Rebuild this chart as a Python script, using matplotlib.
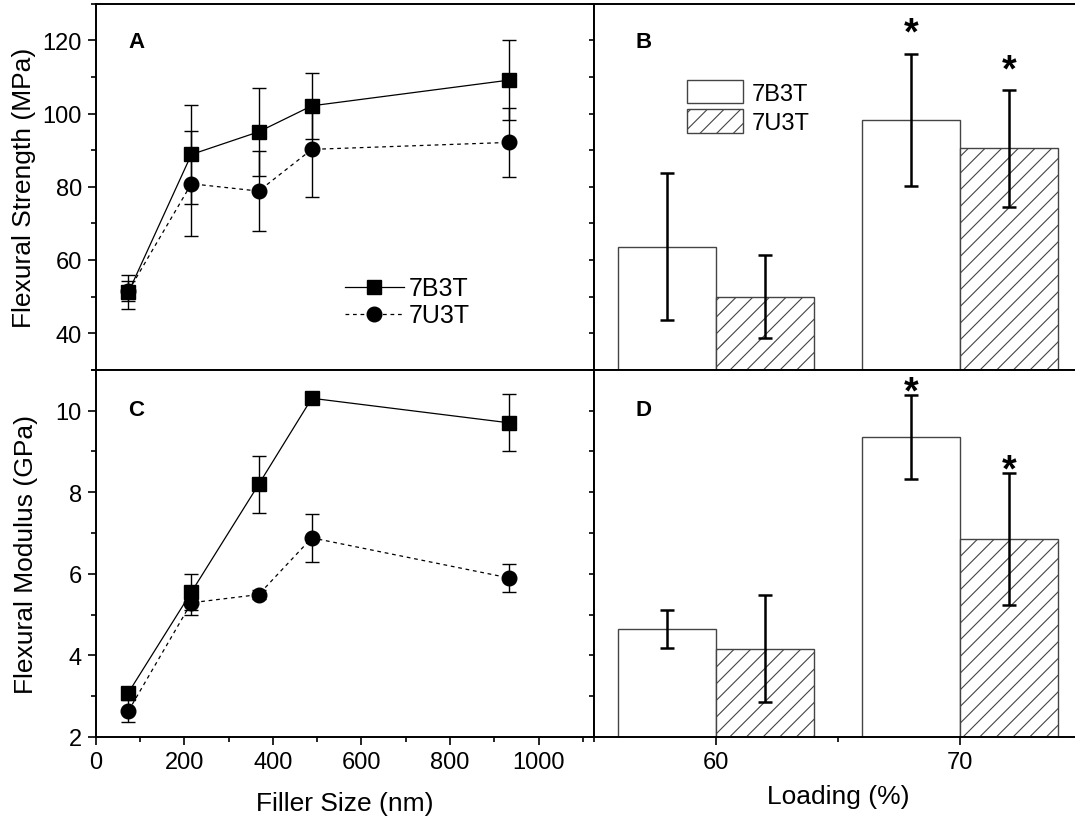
import matplotlib
matplotlib.use('Agg')
import matplotlib.pyplot as plt
from matplotlib.ticker import MultipleLocator, FixedLocator

plt.rcParams['font.family'] = ['Liberation Sans', 'DejaVu Sans']
plt.rcParams['hatch.linewidth'] = 0.8

# ---------------- data ----------------
series = ['7B3T', '7U3T']
filler_size = [74, 216, 368, 488, 932]

strength_7B3T = [51.2, 88.8, 95.0, 102.1, 109.1]
strength_7B3T_err = [4.6, 13.6, 12.0, 9.0, 11.0]
strength_7U3T = [51.5, 80.8, 78.8, 90.2, 92.1]
strength_7U3T_err = [2.6, 14.4, 10.9, 13.1, 9.5]

modulus_7B3T = [3.09, 5.55, 8.19, 10.30, 9.70]
modulus_7B3T_err = [0.10, 0.45, 0.70, 0.12, 0.70]
modulus_7U3T = [2.64, 5.29, 5.49, 6.88, 5.90]
modulus_7U3T_err = [0.27, 0.30, 0.10, 0.58, 0.34]

loading = [60, 70]
loading_labels = ['60', '70']
bar_strength_7B3T = [63.6, 98.2]
bar_strength_7B3T_err = [20.1, 18.0]
bar_strength_7U3T = [50.0, 90.5]
bar_strength_7U3T_err = [11.3, 16.0]
bar_modulus_7B3T = [4.64, 9.35]
bar_modulus_7B3T_err = [0.47, 1.03]
bar_modulus_7U3T = [4.16, 6.85]
bar_modulus_7U3T_err = [1.31, 1.62]
# significance flags (asterisk) per bar
sig_7B3T = [False, True]
sig_7U3T = [False, True]

# ---------------- layout ----------------
W, H = 1075, 820
fig = plt.figure(figsize=(W / 100, H / 100), dpi=100)

xl, xm, xr = 95.7, 594.0, 1082.0
yt, ym, yb = 4.7, 370.7, 738.0

def rect(x0, x1, y0, y1):
    return [x0 / W, 1 - y1 / H, (x1 - x0) / W, (y1 - y0) / H]

axA = fig.add_axes(rect(xl, xm, yt, ym))
axC = fig.add_axes(rect(xl, xm, ym, yb))
axB = fig.add_axes(rect(xm, xr, yt, ym))
axD = fig.add_axes(rect(xm, xr, ym, yb))

TICK_FS = 17
LABEL_FS = 19
LET_FS = 16

for ax in (axA, axB, axC, axD):
    for s in ax.spines.values():
        s.set_linewidth(1.4)
    ax.tick_params(which='both', direction='out', width=1.2, top=False, right=False,
                   labelsize=TICK_FS, pad=4)
    ax.tick_params(which='major', length=6)
    ax.tick_params(which='minor', length=3.5)

# ---------------- line panels ----------------
line_kw = dict(color='black', lw=0.9, elinewidth=1.0, capsize=5, capthick=1.0, ecolor='black')

hA1 = axA.errorbar(filler_size, strength_7B3T, yerr=strength_7B3T_err, marker='s', ms=10,
                   ls='-', **line_kw)
hA2 = axA.errorbar(filler_size, strength_7U3T, yerr=strength_7U3T_err, marker='o', ms=10.5,
                   ls=(0, (3, 3)), **line_kw)
axC.errorbar(filler_size, modulus_7B3T, yerr=modulus_7B3T_err, marker='s', ms=10,
             ls='-', **line_kw)
axC.errorbar(filler_size, modulus_7U3T, yerr=modulus_7U3T_err, marker='o', ms=10.5,
             ls=(0, (3, 3)), **line_kw)

for ax in (axA, axC):
    ax.set_xlim(0, 1125)
    ax.xaxis.set_major_locator(MultipleLocator(200))
    ax.xaxis.set_minor_locator(MultipleLocator(100))
axA.tick_params(labelbottom=False)

axA.set_ylim(30, 130)
axA.yaxis.set_major_locator(MultipleLocator(20))
axA.yaxis.set_minor_locator(MultipleLocator(10))
axC.set_ylim(2, 11)
axC.yaxis.set_major_locator(MultipleLocator(2))
axC.yaxis.set_minor_locator(MultipleLocator(1))

axA.legend(handles=[hA1[0], hA2[0]], labels=series, loc='center left',
           bbox_to_anchor=(0.50, 0.185), frameon=False, fontsize=18,
           handlelength=2.35, handletextpad=0.2, labelspacing=0.12,
           borderpad=0, borderaxespad=0, numpoints=1)

# ---------------- bar panels ----------------
bw = 4.0
bar_kw = dict(width=bw, edgecolor='#444444', linewidth=1.0)
err_kw = dict(fmt='none', ecolor='black', elinewidth=1.8, capsize=5, capthick=1.8)

x1 = [v - bw / 2 for v in loading]
x2 = [v + bw / 2 for v in loading]

bB1 = axB.bar(x1, bar_strength_7B3T, color='white', **bar_kw)
bB2 = axB.bar(x2, bar_strength_7U3T, color='white', hatch='//', **bar_kw)
axB.errorbar(x1, bar_strength_7B3T, yerr=bar_strength_7B3T_err, **err_kw)
axB.errorbar(x2, bar_strength_7U3T, yerr=bar_strength_7U3T_err, **err_kw)

axD.bar(x1, bar_modulus_7B3T, color='white', **bar_kw)
axD.bar(x2, bar_modulus_7U3T, color='white', hatch='//', **bar_kw)
axD.errorbar(x1, bar_modulus_7B3T, yerr=bar_modulus_7B3T_err, **err_kw)
axD.errorbar(x2, bar_modulus_7U3T, yerr=bar_modulus_7U3T_err, **err_kw)

for ax in (axB, axD):
    ax.set_xlim(55, 75)
    ax.xaxis.set_major_locator(FixedLocator(loading))
    ax.xaxis.set_minor_locator(FixedLocator([55, 65, 75]))
    ax.tick_params(axis='y', which='both', labelleft=False, length=3.5)
axB.tick_params(labelbottom=False)
axD.set_xticks(loading)
axD.set_xticklabels(loading_labels)

axB.set_ylim(30, 130)
axB.yaxis.set_major_locator(MultipleLocator(20))
axB.yaxis.set_minor_locator(MultipleLocator(10))
axD.set_ylim(2, 11)
axD.yaxis.set_major_locator(MultipleLocator(2))
axD.yaxis.set_minor_locator(MultipleLocator(1))

# asterisks
def stars(ax, xs, vals, errs, flags, off):
    for x, v, e, f in zip(xs, vals, errs, flags):
        if f:
            ax.annotate('*', xy=(x, v + e), xytext=(0, off), textcoords='offset points',
                        ha='center', va='center', fontsize=27, fontweight='bold',
                        annotation_clip=False)

stars(axB, x1, bar_strength_7B3T, bar_strength_7B3T_err, sig_7B3T, 15)
stars(axB, x2, bar_strength_7U3T, bar_strength_7U3T_err, sig_7U3T, 14)
stars(axD, x1, bar_modulus_7B3T, bar_modulus_7B3T_err, sig_7B3T, 2)
stars(axD, x2, bar_modulus_7U3T, bar_modulus_7U3T_err, sig_7U3T, 2)

axB.legend(handles=[bB1, bB2], labels=series, loc='center left',
           bbox_to_anchor=(0.19, 0.718), frameon=False, fontsize=17,
           handlelength=2.4, handleheight=1.15, handletextpad=0.35, labelspacing=0.2,
           borderpad=0, borderaxespad=0)

# ---------------- panel letters ----------------
for ax, let, fx, fy in ((axA, 'A', 0.081, 0.897), (axB, 'B', 0.101, 0.897),
                        (axC, 'C', 0.081, 0.893), (axD, 'D', 0.101, 0.893)):
    ax.text(fx, fy, let, transform=ax.transAxes, ha='center', va='center',
            fontsize=LET_FS, fontweight='bold')

# ---------------- axis labels ----------------
fig.text(24 / W, 1 - 187.7 / H, 'Flexural Strength (MPa)', rotation=90,
         ha='center', va='center', fontsize=LABEL_FS)
fig.text(26 / W, 1 - 554 / H, 'Flexural Modulus (GPa)', rotation=90,
         ha='center', va='center', fontsize=LABEL_FS)
fig.text(345 / W, 1 - 804 / H, 'Filler Size (nm)', ha='center', va='center', fontsize=LABEL_FS)
fig.text(838 / W, 1 - 797 / H, 'Loading (%)', ha='center', va='center', fontsize=LABEL_FS)

fig.savefig('out.png', dpi=100)
